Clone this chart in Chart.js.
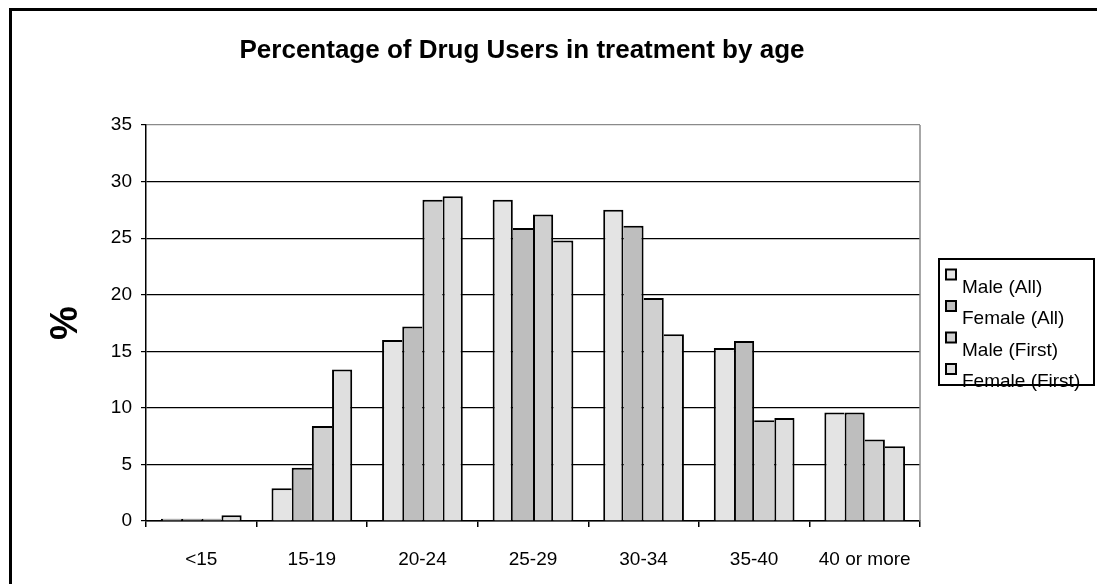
<!DOCTYPE html>
<html>
<head>
<meta charset="utf-8">
<title>Percentage of Drug Users in treatment by age</title>
<script src="https://cdn.jsdelivr.net/npm/chart.js@4/dist/chart.umd.min.js"></script>
<style>
    body { margin: 0; background: #fff; overflow: hidden; }
    #wrap { position: relative; width: 1097px; height: 584px; }
    #frame {
        position: absolute; left: 9px; top: 8px; width: 1200px; height: 700px;
        border: 3px solid #000; pointer-events: none;
    }
</style>
</head>
<body>
<div id="wrap">
    <canvas id="drugChart" width="1097" height="584"></canvas>
    <div id="frame"></div>
</div>
<script>
const chartTitle = 'Percentage of Drug Users in treatment by age';

const ageGroups = ['<15', '15-19', '20-24', '25-29', '30-34', '35-40', '40 or more'];

const seriesNames = ['Male (All)', 'Female (All)', 'Male (First)', 'Female (First)'];

const maleAll     = [0.2, 2.9, 16.0, 28.4, 27.5, 15.3, 9.6];
const femaleAll   = [0.2, 4.7, 17.2, 25.9, 26.1, 15.9, 9.6];
const maleFirst   = [0.2, 8.4, 28.4, 27.1, 19.7, 8.9, 7.2];
const femaleFirst = [0.5, 13.4, 28.7, 24.8, 16.5, 9.1, 6.6];

const yTicks = [0, 5, 10, 15, 20, 25, 30, 35];

const seriesColors = ['#e4e4e4', '#bebebe', '#d0d0d0', '#dfdfdf'];

const FONT = "'Liberation Sans', Arial, sans-serif";
const EDGE = 2;


// touching bars share one edge: the taller bar of the pair draws it
function barEdges(c) {
    const sets = c.chart.data.datasets;
    const d = c.datasetIndex;
    const v = sets[d].data[c.dataIndex];
    const prev = d > 0 ? sets[d - 1].data[c.dataIndex] : null;
    const next = d < sets.length - 1 ? sets[d + 1].data[c.dataIndex] : null;
    return {
        top: EDGE,
        left: (prev === null || v >= prev) ? EDGE : 0,
        right: (next === null || v > next) ? EDGE : 0,
        bottom: 0
    };
}

function makeDataset(i, values) {
    return {
        label: seriesNames[i],
        data: values,
        backgroundColor: seriesColors[i],
        borderColor: '#000',
        borderWidth: barEdges,
        borderSkipped: 'bottom',
        categoryPercentage: 0.73,
        barPercentage: 1.0
    };
}

// title drawn by hand so it can sit where Excel put it
const titlePlugin = {
    id: 'excelTitle',
    afterDraw(chart) {
        const ctx = chart.ctx;
        const area = chart.chartArea;
        ctx.save();
        ctx.font = 'bold 26px ' + FONT;
        ctx.fillStyle = '#000';
        ctx.textAlign = 'center';
        ctx.textBaseline = 'alphabetic';
        ctx.fillText(chartTitle, (area.left + area.right) / 2 - 11, 58);
        ctx.restore();
    }
};

// grey line on the right of the plot area
const plotFramePlugin = {
    id: 'plotFrame',
    afterDatasetsDraw(chart) {
        const ctx = chart.ctx;
        const a = chart.chartArea;
        ctx.save();
        ctx.strokeStyle = '#8a8a8a';
        ctx.lineWidth = 1.5;
        ctx.beginPath();
        ctx.moveTo(a.right, a.top);
        ctx.lineTo(a.right, a.bottom);
        ctx.stroke();
        ctx.restore();
    }
};

// boxed legend on the right, like the original
const boxLegendPlugin = {
    id: 'boxLegend',
    afterDraw(chart) {
        const ctx = chart.ctx;
        const a = chart.chartArea;
        const left = a.right + 19;
        const top = 259;
        ctx.save();
        ctx.strokeStyle = '#000';
        ctx.lineWidth = 2;
        ctx.strokeRect(left, top, 155, 126);
        ctx.font = '19px ' + FONT;
        ctx.textAlign = 'left';
        ctx.textBaseline = 'alphabetic';
        chart.data.datasets.forEach((ds, i) => {
            const y = top + 10.5 + i * 31.5;
            ctx.fillStyle = ds.backgroundColor;
            ctx.fillRect(left + 7, y, 10, 10);
            ctx.lineWidth = 2;
            ctx.strokeRect(left + 7, y, 10, 10);
            ctx.fillStyle = '#000';
            ctx.fillText(ds.label, left + 23, y + 23);
        });
        ctx.restore();
    }
};


var ctx = document.getElementById('drugChart').getContext('2d');

var drugChart = new Chart(ctx, {
    type: 'bar',
    data: {
        labels: ageGroups,
        datasets: [
            makeDataset(0, maleAll),
            makeDataset(1, femaleAll),
            makeDataset(2, maleFirst),
            makeDataset(3, femaleFirst)
        ]
    },
    options: {
        responsive: false,
        animation: false,
        devicePixelRatio: 1,
        layout: {
            padding: { top: 125, right: 177, bottom: 0, left: 0 }
        },
        plugins: {
            legend: { display: false },
            title: { display: false },
            tooltip: { enabled: false }
        },
        scales: {
            x: {
                afterFit: s => { s.height = 63; },
                grid: {
                    offset: true,
                    drawOnChartArea: false,
                    tickLength: 6,
                    color: '#000',
                    tickColor: '#000',
                    lineWidth: 1.5
                },
                border: { color: '#000', width: 1.5 },
                ticks: {
                    color: '#000',
                    font: { family: FONT, size: 19 },
                    padding: 21,
                    maxRotation: 0
                }
            },
            y: {
                min: 0,
                max: 35,
                afterFit: s => { s.width = 146; },
                afterBuildTicks: s => { s.ticks = yTicks.map(v => ({ value: v })); },
                grid: {
                    color: c => (c.tick && c.tick.value === 35) ? '#8a8a8a' : '#000',
                    tickColor: '#000',
                    tickLength: 5,
                    lineWidth: 1.2
                },
                border: { color: '#000', width: 1.5 },
                ticks: {
                    color: '#000',
                    font: { family: FONT, size: 19 },
                    padding: 9
                },
                title: {
                    display: true,
                    text: '%',
                    color: '#000',
                    font: { family: FONT, size: 38, weight: 'bold' },
                    padding: { top: 44, bottom: 0 }
                }
            }
        }
    },
    plugins: [titlePlugin, plotFramePlugin, boxLegendPlugin]
});
</script>
</body>
</html>
